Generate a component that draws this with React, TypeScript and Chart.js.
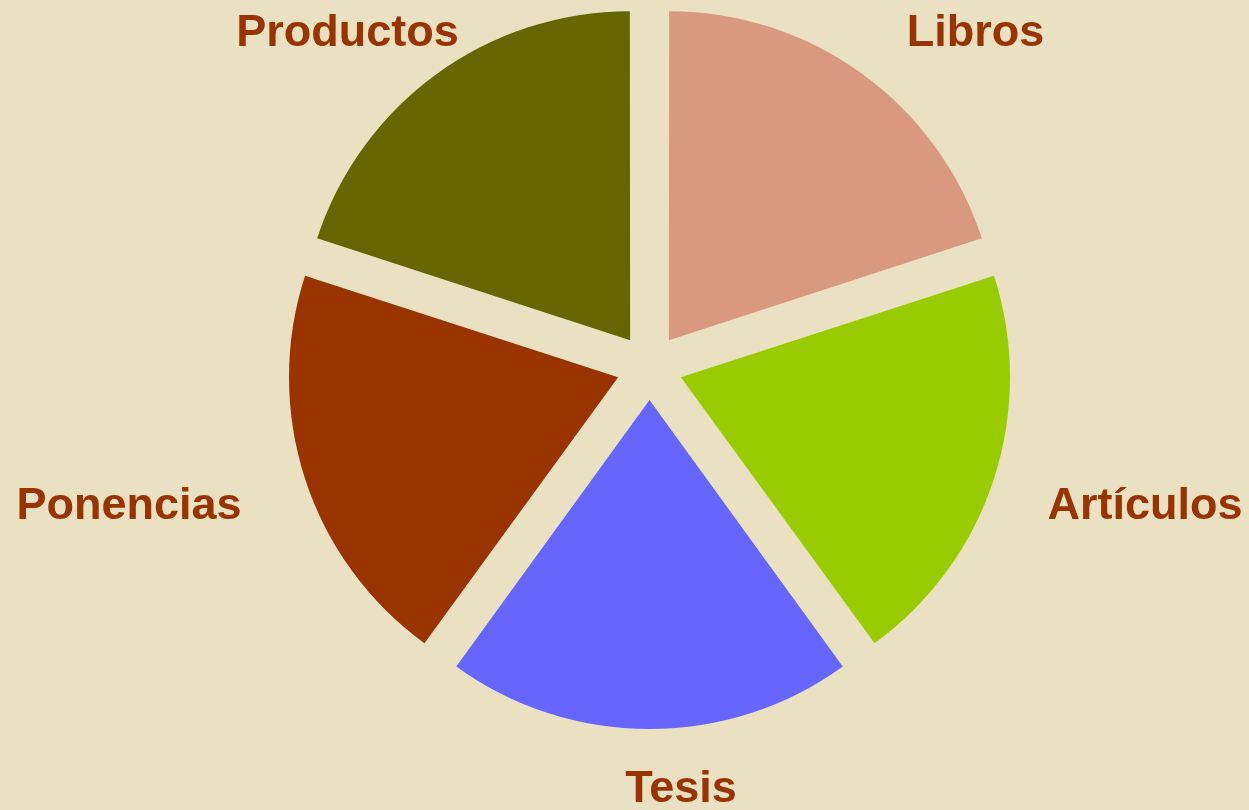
import React, { useEffect, useRef } from "react";
import { Chart, registerables } from "chart.js";

Chart.register(...registerables);

const categories = ["Libros", "Artículos", "Tesis", "Ponencias", "Productos"];
const values = [20, 20, 20, 20, 20];
const sliceColors = ["#D8997F", "#99CC00", "#6666FF", "#993300", "#666600"];

const W = 1249;
const H = 810;

// label placement relative to pie centre (text centre x, baseline y)
const labelOffsets: [number, number][] = [
  [326, -321.5],
  [495.5, 152],
  [31.5, 435],
  [-520.5, 152],
  [-302, -321],
];

const outerLabels = {
  id: "outerLabels",
  afterDatasetsDraw(chart: any, _args: any, opts: any) {
    const meta = chart.getDatasetMeta(0);
    const ctx = chart.ctx;
    ctx.save();
    ctx.font = opts.font;
    ctx.fillStyle = opts.color;
    ctx.textAlign = "center";
    ctx.textBaseline = "alphabetic";
    meta.data.forEach((arc: any, i: number) => {
      const { x, y } = arc.getProps(["x", "y"], true);
      const [dx, dy] = opts.offsets[i];
      ctx.fillText(chart.data.labels[i], x + dx, y + dy);
    });
    ctx.restore();
  },
};

export default function App() {
  const ref = useRef<HTMLCanvasElement | null>(null);

  useEffect(() => {
    document.body.style.margin = "0";
    const canvas = ref.current;
    if (!canvas) return;
    const chart = new Chart(canvas, {
      type: "pie",
      data: {
        labels: categories,
        datasets: [
          {
            data: values,
            backgroundColor: sliceColors,
            borderWidth: 0,
            offset: 132,
            hoverOffset: 0,
          },
        ],
      },
      options: {
        responsive: false,
        animation: false,
        devicePixelRatio: 1,
        radius: 327.5,
        layout: { padding: { left: 50, right: 0, top: 0, bottom: 76 } },
        plugins: {
          legend: { display: false },
          tooltip: { enabled: false },
          outerLabels: {
            font: "bold 45px 'Liberation Sans', Arial, sans-serif",
            color: "#993300",
            offsets: labelOffsets,
          },
        } as any,
      } as any,
      plugins: [outerLabels],
    });
    return () => chart.destroy();
  }, []);

  return (
    <div
      style={{
        position: "fixed",
        left: 0,
        top: 0,
        width: W,
        height: H,
        background: "#E9E1C2",
        overflow: "hidden",
      }}
    >
      <canvas ref={ref} width={W} height={H} style={{ display: "block" }} />
    </div>
  );
}
